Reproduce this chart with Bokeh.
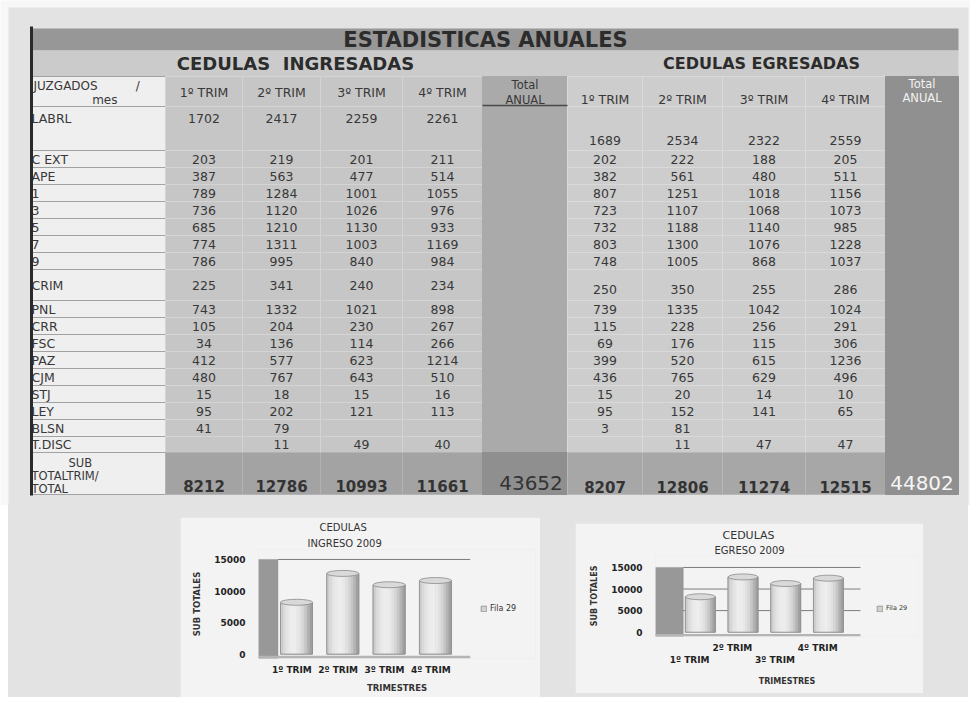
from bokeh.plotting import figure
from bokeh.models import (Range1d, ColumnDataSource, Legend, LegendItem, LinearAxis,
                          FixedTicker, BoxAnnotation, Spacer, Title)
from bokeh.layouts import column, row
from bokeh.embed import file_html
from bokeh.resources import INLINE
from bokeh.core.properties import value

# ---------------- data ----------------
titulo = "ESTADISTICAS ANUALES"
grupo_ing = "CEDULAS\u00a0\u00a0INGRESADAS"
grupo_egr = "CEDULAS EGRESADAS"
cab_juzgados = "JUZGADOS" + "\u00a0" * 10 + "/"
cab_mes = "mes"
cab_total = ["Total", "ANUAL"]
cab_sub = ["SUB", "TOTALTRIM/", "TOTAL"]
trimestres = ["1º TRIM", "2º TRIM", "3º TRIM", "4º TRIM"]
juzgados = ["LABRL", "C EXT", "APE", "1", "3", "5", "7", "9", "CRIM", "PNL",
            "CRR", "FSC", "PAZ", "CJM", "STJ", "LEY", "BLSN", "T.DISC"]

ing_t1 = [1702, 203, 387, 789, 736, 685, 774, 786, 225, 743, 105, 34, 412, 480, 15, 95, 41, None]
ing_t2 = [2417, 219, 563, 1284, 1120, 1210, 1311, 995, 341, 1332, 204, 136, 577, 767, 18, 202, 79, 11]
ing_t3 = [2259, 201, 477, 1001, 1026, 1130, 1003, 840, 240, 1021, 230, 114, 623, 643, 15, 121, None, 49]
ing_t4 = [2261, 211, 514, 1055, 976, 933, 1169, 984, 234, 898, 267, 266, 1214, 510, 16, 113, None, 40]

egr_t1 = [1689, 202, 382, 807, 723, 732, 803, 748, 250, 739, 115, 69, 399, 436, 15, 95, 3, None]
egr_t2 = [2534, 222, 561, 1251, 1107, 1188, 1300, 1005, 350, 1335, 228, 176, 520, 765, 20, 152, 81, 11]
egr_t3 = [2322, 188, 480, 1018, 1068, 1140, 1076, 868, 255, 1042, 256, 115, 615, 629, 14, 141, None, 47]
egr_t4 = [2559, 205, 511, 1156, 1073, 985, 1228, 1037, 286, 1024, 291, 306, 1236, 496, 10, 65, None, 47]

serie = "Fila 29"
chart_ing_title = ["CEDULAS", "INGRESO 2009"]
chart_egr_title = ["CEDULAS", "EGRESO 2009"]
eje_y = "SUB TOTALES"
eje_x = "TRIMESTRES"
y_ticks = [0, 5000, 10000, 15000]

ing_cols = [ing_t1, ing_t2, ing_t3, ing_t4]
egr_cols = [egr_t1, egr_t2, egr_t3, egr_t4]
ing_sub = [sum(v for v in c if v is not None) for c in ing_cols]
egr_sub = [sum(v for v in c if v is not None) for c in egr_cols]
ing_total = sum(ing_sub)
egr_total = sum(egr_sub)

# ---------------- layout / style constants ----------------
BG = "#e3e3e3"
FONT = "DejaVu Sans"
TXT = "#383838"
COL_X = [32, 165, 242, 320, 402, 482, 567, 642, 722, 805, 885, 958]
ROW_Y = [76, 106, 150, 167, 184, 201, 218, 235, 252, 269, 300, 317, 334, 351,
         368, 385, 402, 419, 436, 452, 494]
ING_VPOS = [0.27] + [0.5] * 17
EGR_VPOS = [0.77] + [0.5] * 7 + [0.65] + [0.5] * 9
LAB_VPOS = [0.27] + [0.5] * 17

t = figure(width=970, height=505, x_range=Range1d(0, 970), y_range=Range1d(505, 0),
           output_backend="svg", toolbar_location=None, min_border=0)
t.axis.visible = False
t.grid.visible = False
t.outline_line_color = None
t.background_fill_color = "#f7f7f7"
t.border_fill_color = "#f7f7f7"

# panel background, title bar and group header
t.quad(left=[8], right=[968], top=[7], bottom=[505], fill_color=BG, line_color=None)
t.quad(left=[COL_X[0]], right=[COL_X[-1]], top=[28], bottom=[50], fill_color="#979797", line_color=None)
t.quad(left=[COL_X[0]], right=[COL_X[-1]], top=[50], bottom=[ROW_Y[0]], fill_color="#cbcbcb", line_color=None)

# cells
nrows = len(ROW_Y) - 1
cl, cr, ct, cb, cf, clc = [], [], [], [], [], []
for c in range(len(COL_X) - 1):
    for r in range(nrows):
        sub = (r == nrows - 1)
        if c == 0:
            f, lc = "#efefef", "#a2a2a2"
        elif c <= 4:
            f, lc = ("#a3a3a3", "#b3b3b3") if sub else ("#c6c6c6", "#d4d4d4")
        elif c == 5:
            f = "#8f8f8f" if sub else "#aaaaaa"
            lc = f
        elif c <= 9:
            f, lc = ("#a7a7a7", "#b9b9b9") if sub else ("#cdcdcd", "#dadada")
        else:
            f = "#909090"
            lc = f
        cl.append(COL_X[c]); cr.append(COL_X[c + 1])
        ct.append(ROW_Y[r]); cb.append(ROW_Y[r + 1])
        cf.append(f); clc.append(lc)
t.quad(left="l", right="r", top="t", bottom="b", fill_color="f", line_color="lc", line_width=1,
       source=ColumnDataSource(dict(l=cl, r=cr, t=ct, b=cb, f=cf, lc=clc)))
t.segment(x0=[COL_X[5]], x1=[COL_X[6]], y0=[ROW_Y[1] - 1], y1=[ROW_Y[1] - 1], line_color="#4a4a4a", line_width=1.5)

def txt(xs, ys, ss, size, color=TXT, align="center", style="normal"):
    t.text(x=xs, y=ys, text=ss, text_font=value(FONT), text_font_size=value(size),
           text_color=color, text_align=align, text_baseline="middle", text_font_style=style)

txt([485], [39], [titulo], "21px", "#2c2c2c", style="bold")
txt([295], [63], [grupo_ing], "18px", "#2c2c2c", style="bold")
txt([761], [63], [grupo_egr], "16px", "#2c2c2c", style="bold")

# header row
txt([33], [85], [cab_juzgados], "12px", align="left")
txt([117], [99], [cab_mes], "12px", align="right")
ing_cx = [(COL_X[1 + j] + COL_X[2 + j]) / 2 for j in range(4)]
egr_cx = [(COL_X[6 + j] + COL_X[7 + j]) / 2 for j in range(4)]
txt(ing_cx, [92] * 4, trimestres, "12.5px")
txt(egr_cx, [99] * 4, trimestres, "12.5px")
tot_ing_cx = (COL_X[5] + COL_X[6]) / 2
tot_egr_cx = (COL_X[10] + COL_X[11]) / 2
txt([tot_ing_cx] * 2, [84, 99], cab_total, "11.5px")
txt([tot_egr_cx] * 2, [83, 97], cab_total, "11.5px", "#f2f2f2")

# row labels
lab_y = [ROW_Y[1 + i] + LAB_VPOS[i] * (ROW_Y[2 + i] - ROW_Y[1 + i]) for i in range(len(juzgados))]
txt([31] * len(juzgados), lab_y, juzgados, "12.5px", align="left")
txt([68, 31, 31], [462, 475, 488], cab_sub, "11.5px", align="left")

# values
def values(cols, cxs, vpos):
    xs, ys, ss = [], [], []
    for j, colv in enumerate(cols):
        for i, v in enumerate(colv):
            if v is None:
                continue
            top, bot = ROW_Y[1 + i], ROW_Y[2 + i]
            xs.append(cxs[j]); ys.append(top + vpos[i] * (bot - top)); ss.append(str(v))
    txt(xs, ys, ss, "12.5px")

values(ing_cols, ing_cx, ING_VPOS)
values(egr_cols, egr_cx, EGR_VPOS)

txt(ing_cx, [485] * 4, [str(v) for v in ing_sub], "15px", "#333333", style="bold")
txt(egr_cx, [486] * 4, [str(v) for v in egr_sub], "15px", "#333333", style="bold")
txt([tot_ing_cx + 6], [482], [str(ing_total)], "20px", "#333333")
txt([tot_egr_cx], [482], [str(egr_total)], "20px", "#f5f5f5")

t.segment(x0=[31], x1=[31], y0=[26], y1=[495], line_color="#2a2a2a", line_width=3)


# ---------------- bar charts ----------------
def bar_chart(vals, titles, w, h, xr, yr, borders, wall_right, floor_right, bw, grid_ticks,
              stagger, sizes, offsets, stand, leg_loc, xstand, label_shift, face="#f3f3f3"):
    p = figure(width=w, height=h, x_range=Range1d(*xr), y_range=Range1d(*yr),
               output_backend="svg", toolbar_location=None, title=titles[0],
               min_border_left=borders[0], min_border_right=borders[1],
               min_border_top=borders[2], min_border_bottom=borders[3])
    p.xaxis.visible = False
    p.background_fill_color = face
    p.border_fill_color = face
    p.outline_line_color = None
    p.xgrid.grid_line_color = None
    p.ygrid.grid_line_color = None
    p.title.text_font = FONT
    p.title.text_font_size = sizes["title"]
    p.title.text_font_style = "normal"
    p.title.text_color = "#333333"
    p.title.align = "left"
    p.title.offset = offsets[0]
    p.title.standoff = stand[0]
    p.add_layout(Title(text=titles[1], text_font=FONT, text_font_size=sizes["sub"],
                       text_font_style="normal", text_color="#333333", align="left",
                       offset=offsets[1], standoff=stand[1]), "above")

    xs = list(range(1, len(vals) + 1))
    top_wall = max(y_ticks)
    p.add_layout(BoxAnnotation(right=wall_right, top=top_wall, fill_color="#989898", fill_alpha=1,
                               line_color="#7a7a7a", level="underlay"))
    p.add_layout(BoxAnnotation(top=yr[0] * 0.4, right=floor_right, fill_color="#b4b4b4",
                               fill_alpha=1, line_color=None, level="underlay"))
    n_g = len(grid_ticks)
    p.segment(x0=[wall_right] * n_g, x1=[floor_right] * n_g, y0=grid_ticks, y1=grid_ticks,
              line_color="#7c7c7c", line_width=1)
    base = p.vbar(x=xs, top=vals, bottom=0, width=bw, fill_color="#d2d2d2", line_color="#9a9a9a")
    n = 12
    for k in range(n):
        tt = (k + 0.5) / n
        b = int(160 + 78 * max(0.0, 1 - ((tt - 0.4) / 0.55) ** 2))
        col = "#%02x%02x%02x" % (b, b, b)
        off = (tt - 0.5) * bw
        p.vbar(x=[xi + off for xi in xs], top=vals, bottom=0, width=bw / n * 1.15,
               fill_color=col, line_color=None)
    p.vbar(x=xs, top=vals, bottom=0, width=bw, fill_color=None, line_color="#8e8e8e", line_width=0.8)
    p.ellipse(x=xs, y=vals, width=bw, height=6, height_units="screen",
              fill_color="#d9d9d9", line_color="#8a8a8a", line_width=0.8)

    ya = p.yaxis[0]
    ya.ticker = FixedTicker(ticks=y_ticks)
    ya.axis_line_color = None
    ya.major_tick_line_color = None
    ya.minor_tick_line_color = None
    ya.major_label_text_font = FONT
    ya.major_label_text_font_style = "bold"
    ya.major_label_text_font_size = "9px"
    ya.major_label_text_color = "#222222"
    ya.major_label_standoff = 7
    ya.axis_label = eje_y
    ya.axis_label_text_font = FONT
    ya.axis_label_text_font_style = "bold"
    ya.axis_label_text_font_size = sizes["axis"]
    ya.axis_label_text_color = "#333333"
    ya.axis_label_standoff = 9

    tick_pos = [xi + label_shift for xi in xs]
    overrides = {tp: lab for tp, lab in zip(tick_pos, trimestres)}
    groups = [tick_pos[1::2], tick_pos[0::2]] if stagger else [tick_pos]
    for gi, ticks in enumerate(groups):
        ax = LinearAxis(ticker=FixedTicker(ticks=ticks), major_label_overrides=overrides)
        ax.axis_line_color = None
        ax.major_tick_line_color = None
        ax.minor_tick_line_color = None
        ax.major_label_text_font = FONT
        ax.major_label_text_font_style = "bold"
        ax.major_label_text_font_size = "9px"
        ax.major_label_text_color = "#222222"
        ax.major_label_standoff = xstand[gi]
        if gi == len(groups) - 1:
            ax.axis_label = eje_x
            ax.axis_label_text_font = FONT
            ax.axis_label_text_font_style = "bold"
            ax.axis_label_text_font_size = sizes["axis"]
            ax.axis_label_text_color = "#333333"
            ax.axis_label_standoff = xstand[-1]
        p.add_layout(ax, "below")

    leg = Legend(items=[LegendItem(label=serie, renderers=[base])], location=leg_loc,
                 border_line_color=None, background_fill_alpha=0, glyph_width=7, glyph_height=7,
                 padding=2, margin=0, label_standoff=3, label_text_font=FONT,
                 label_text_font_size=sizes["legend"], label_text_color="#333333")
    p.add_layout(leg)
    return p


c1 = bar_chart(ing_sub, chart_ing_title, 360, 180, (0.18, 6.16), (-700, 16580),
               (78, 5, 32, 39), 0.6, 4.75, 0.69, [15000], False,
               dict(title="10px", sub="10px", axis="8.5px", legend="8px"), (61, 49), (4, 2),
               (222, 45), (0, 5), -0.1)
c2 = bar_chart(egr_sub, chart_egr_title, 348, 170, (-0.05, 6.11), (-1000, 17770),
               (80, 5, 32, 57), 0.6, 4.75, 0.7, [5000, 10000, 15000], True,
               dict(title="11px", sub="10px", axis="8px", legend="6.5px"), (67, 59), (2, 0),
               (221, 24), (0, -7, 9), -0.25)

col1 = column(Spacer(width=360, height=12), c1)
col2 = column(Spacer(width=348, height=18), c2)
inner = row(Spacer(width=172, height=10), col1, Spacer(width=35, height=10), col2,
            Spacer(width=45, height=10), styles={"background-color": BG})
bottom = row(Spacer(width=8, height=10), inner)
layout = column(t, bottom)

open("out.html", "w").write(file_html(layout, INLINE))
